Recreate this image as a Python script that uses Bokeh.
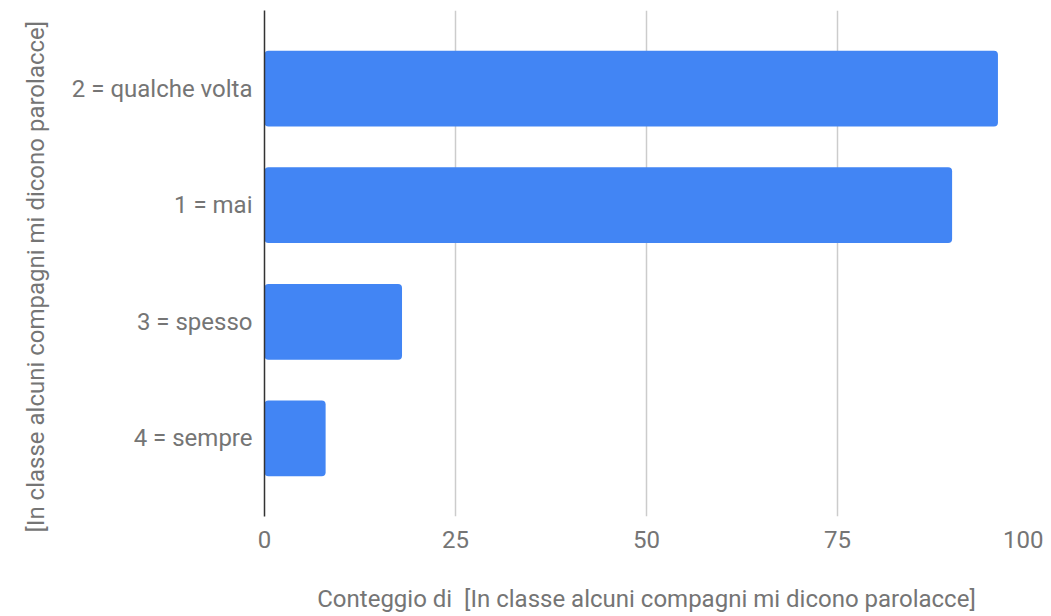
from bokeh.plotting import figure
from bokeh.models import FactorRange, Range1d, FixedTicker, ColumnDataSource, Title
from bokeh.embed import file_html
from bokeh.resources import INLINE

categories = ["2 = qualche volta", "1 = mai", "3 = spesso", "4 = sempre"]
counts = [96, 90, 18, 8]
x_ticks = [0, 25, 50, 75, 100]
x_title = "Conteggio di\u00a0 [In classe alcuni compagni mi dicono parolacce]"
y_title = "[In classe alcuni compagni mi dicono parolacce]"

FONT = "Roboto"
LABEL_COLOR = "#757575"
FS = "24px"

factors = list(reversed(categories))
src = ColumnDataSource(dict(cat=categories, val=counts))

p = figure(
    width=1043, height=615,
    y_range=FactorRange(factors=factors, range_padding=0.17, range_padding_units="absolute"),
    x_range=Range1d(0, 100),
    output_backend="svg", toolbar_location=None,
    min_border_top=10, min_border_right=15, min_border_left=264, min_border_bottom=0,
)
p.outline_line_color = None
p.background_fill_color = "white"
p.border_fill_color = "white"

p.hbar(y="cat", right="val", left=0, height=0.65, source=src,
       fill_color="#4285F4", line_color=None, border_radius=4)

# x axis
p.xaxis.ticker = FixedTicker(ticks=x_ticks)
p.xaxis.axis_line_color = None
p.xaxis.major_tick_line_color = None
p.xaxis.major_tick_out = 0
p.xaxis.major_tick_in = 0
p.xaxis.minor_tick_line_color = None
p.xaxis.major_label_text_font = FONT
p.xaxis.major_label_text_font_size = FS
p.xaxis.major_label_text_color = LABEL_COLOR
p.xaxis.major_label_standoff = 14
p.xaxis.axis_label = x_title
p.xaxis.axis_label_text_font = FONT
p.xaxis.axis_label_text_font_size = FS
p.xaxis.axis_label_text_font_style = "normal"
p.xaxis.axis_label_text_color = LABEL_COLOR
p.xaxis.axis_label_standoff = 34

# y axis
p.yaxis.axis_line_color = "#333333"
p.yaxis.axis_line_width = 1.5
p.yaxis.major_tick_line_color = None
p.yaxis.major_tick_out = 0
p.yaxis.major_tick_in = 0
p.yaxis.minor_tick_line_color = None
p.yaxis.major_label_text_font = FONT
p.yaxis.major_label_text_font_size = FS
p.yaxis.major_label_text_color = LABEL_COLOR
p.yaxis.major_label_standoff = 12

# y-axis title (placed slightly below the frame centre, as in the original)
yt = Title(text=y_title, align="left", offset=-16, standoff=38,
           text_font=FONT, text_font_size=FS, text_font_style="normal",
           text_color=LABEL_COLOR)
p.add_layout(yt, "left")

p.xgrid.grid_line_color = "#cccccc"
p.xgrid.grid_line_width = 1.5
p.ygrid.grid_line_color = None

open("out.html", "w").write(file_html(p, INLINE))
